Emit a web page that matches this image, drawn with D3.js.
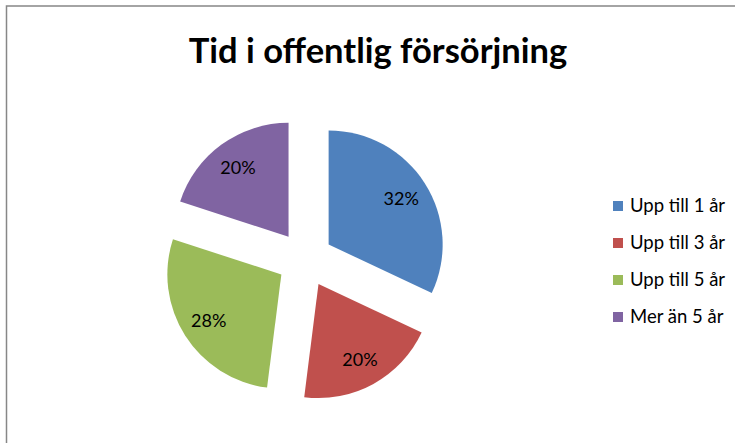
<!DOCTYPE html>
<html>
<head>
<meta charset="utf-8">
<script src="https://cdn.jsdelivr.net/npm/d3@7"></script>
<style>
  body { margin: 0; background: #fff; }
  svg { display: block; }
</style>
</head>
<body>
<svg id="chart"></svg>
<script>
// data
const categories = ["Upp till 1 år", "Upp till 3 år", "Upp till 5 år", "Mer än 5 år"];
const values = [32, 20, 28, 20];
const colors = ["#4F81BD", "#C0504D", "#9BBB59", "#8064A2"];
const title = "Tid i offentlig försörjning";

const width = 735, height = 443;
const cx = 305, cy = 259.5, radius = 114, explode = 28, labelR = 86;
const font = "Lato, 'Open Sans', sans-serif";

const svg = d3.select("#chart")
    .attr("width", width)
    .attr("height", height);

// frame (only top and left show in the crop)
svg.append("rect")
    .attr("x", 6.5).attr("y", 6)
    .attr("width", width + 20).attr("height", height + 20)
    .attr("fill", "none")
    .attr("stroke", "#878787")
    .attr("stroke-width", 1.5);

svg.append("text")
    .attr("x", 378).attr("y", 63)
    .attr("text-anchor", "middle")
    .attr("font-family", font)
    .attr("font-weight", "bold")
    .attr("font-size", 34.5)
    .attr("fill", "#000")
    .text(title);

const pie = d3.pie().sort(null).value(d => d);
const arcs = pie(values);
const arc = d3.arc().innerRadius(0).outerRadius(radius);

const g = svg.append("g").attr("transform", `translate(${cx},${cy})`);

const slices = g.selectAll("g.slice")
    .data(arcs)
    .enter()
    .append("g")
    .attr("class", "slice")
    .attr("transform", function(d) {
        const a = (d.startAngle + d.endAngle) / 2;
        return "translate(" + [explode * Math.sin(a), -explode * Math.cos(a)] + ")";
    });

slices.append("path")
    .attr("d", arc)
    .attr("fill", (d, i) => colors[i]);

slices.append("text")
    .attr("x", function(d) { return labelR * Math.sin((d.startAngle + d.endAngle) / 2); })
    .attr("y", function(d) { return -labelR * Math.cos((d.startAngle + d.endAngle) / 2); })
    .attr("dy", "0.35em")
    .attr("text-anchor", "middle")
    .attr("font-family", font)
    .attr("font-size", 18)
    .attr("fill", "#000")
    .text(d => d.data + "%");

// legend
const legend = svg.append("g").attr("transform", "translate(613,206)");
const y = d3.scalePoint().domain(categories).range([0, 111]);

const items = legend.selectAll("g")
    .data(categories)
    .enter()
    .append("g")
    .attr("transform", d => "translate(0," + y(d) + ")");

items.append("rect")
    .attr("x", 0).attr("y", -5)
    .attr("width", 10).attr("height", 10)
    .attr("fill", (d, i) => colors[i]);

items.append("text")
    .attr("x", 17)
    .attr("dy", "0.35em")
    .attr("font-family", font)
    .attr("font-size", 18.5)
    .attr("fill", "#000")
    .text(d => d);
</script>
</body>
</html>
